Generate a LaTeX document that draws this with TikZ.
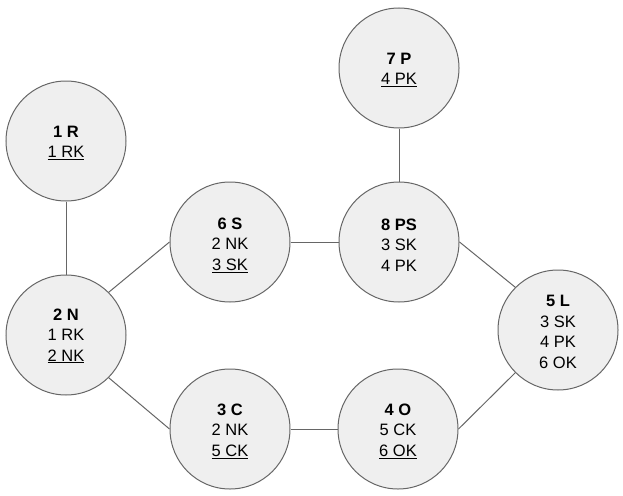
\documentclass[tikz,border=0pt]{standalone}
\usepackage{fontspec}
\setmainfont{Liberation Sans}
\definecolor{nodefill}{HTML}{EFEFEF}
\definecolor{edgegray}{HTML}{666666}
\tikzset{
  circ/.style={circle, draw=edgegray, fill=nodefill, line width=1pt, minimum size=120pt, inner sep=0pt},
  txt/.style={inner sep=0pt, align=center, font=\fontsize{16.5pt}{20.5pt}\selectfont},
  link/.style={draw=edgegray, line width=1pt}
}
\newcommand{\ul}[1]{\underline{#1}}
\begin{document}
\begin{tikzpicture}[x=1pt,y=-1pt]
\useasboundingbox (0,0) rectangle (623,495);
\node[circ] (r) at (66,141) {};
\node[circ] (n) at (66,335) {};
\node[circ] (s) at (230,242) {};
\node[circ] (ps) at (399,242) {};
\node[circ] (p) at (399,68) {};
\node[circ] (l) at (558,330) {};
\node[circ] (c) at (230,429) {};
\node[circ] (o) at (398,429) {};
\node[txt] (rt) at ([yshift=-2pt]r.center) {\textbf{1 R}\\\ul{1 RK}};
\node[txt] (nt) at ([yshift=-1pt]n.center) {\textbf{2 N}\\1 RK\\\ul{2 NK}};
\node[txt] (st) at ([yshift=-3pt]s.center) {\textbf{6 S}\\2 NK\\\ul{3 SK}};
\node[txt] (pst) at ([yshift=-3pt]ps.center) {\textbf{8 PS}\\3 SK\\4 PK};
\node[txt] (pt) at ([yshift=-2pt]p.center) {\textbf{7 P}\\\ul{4 PK}};
\node[txt] (lt) at ([yshift=-2pt]l.center) {\textbf{5 L}\\3 SK\\4 PK\\6 OK};
\node[txt] (ct) at ([yshift=-2pt]c.center) {\textbf{3 C}\\2 NK\\\ul{5 CK}};
\node[txt] (ot) at ([yshift=-2pt]o.center) {\textbf{4 O}\\5 CK\\\ul{6 OK}};
\draw[link] (r) -- (n);
\draw[link] (n.north east) -- (s.west);
\draw[link] (n.south east) -- (c.west);
\draw[link] (s) -- (ps);
\draw[link] (p) -- (ps);
\draw[link] (ps.east) -- (l.north west);
\draw[link] (c) -- (o);
\draw[link] (o.east) -- (l.south west);
\end{tikzpicture}
\end{document}
